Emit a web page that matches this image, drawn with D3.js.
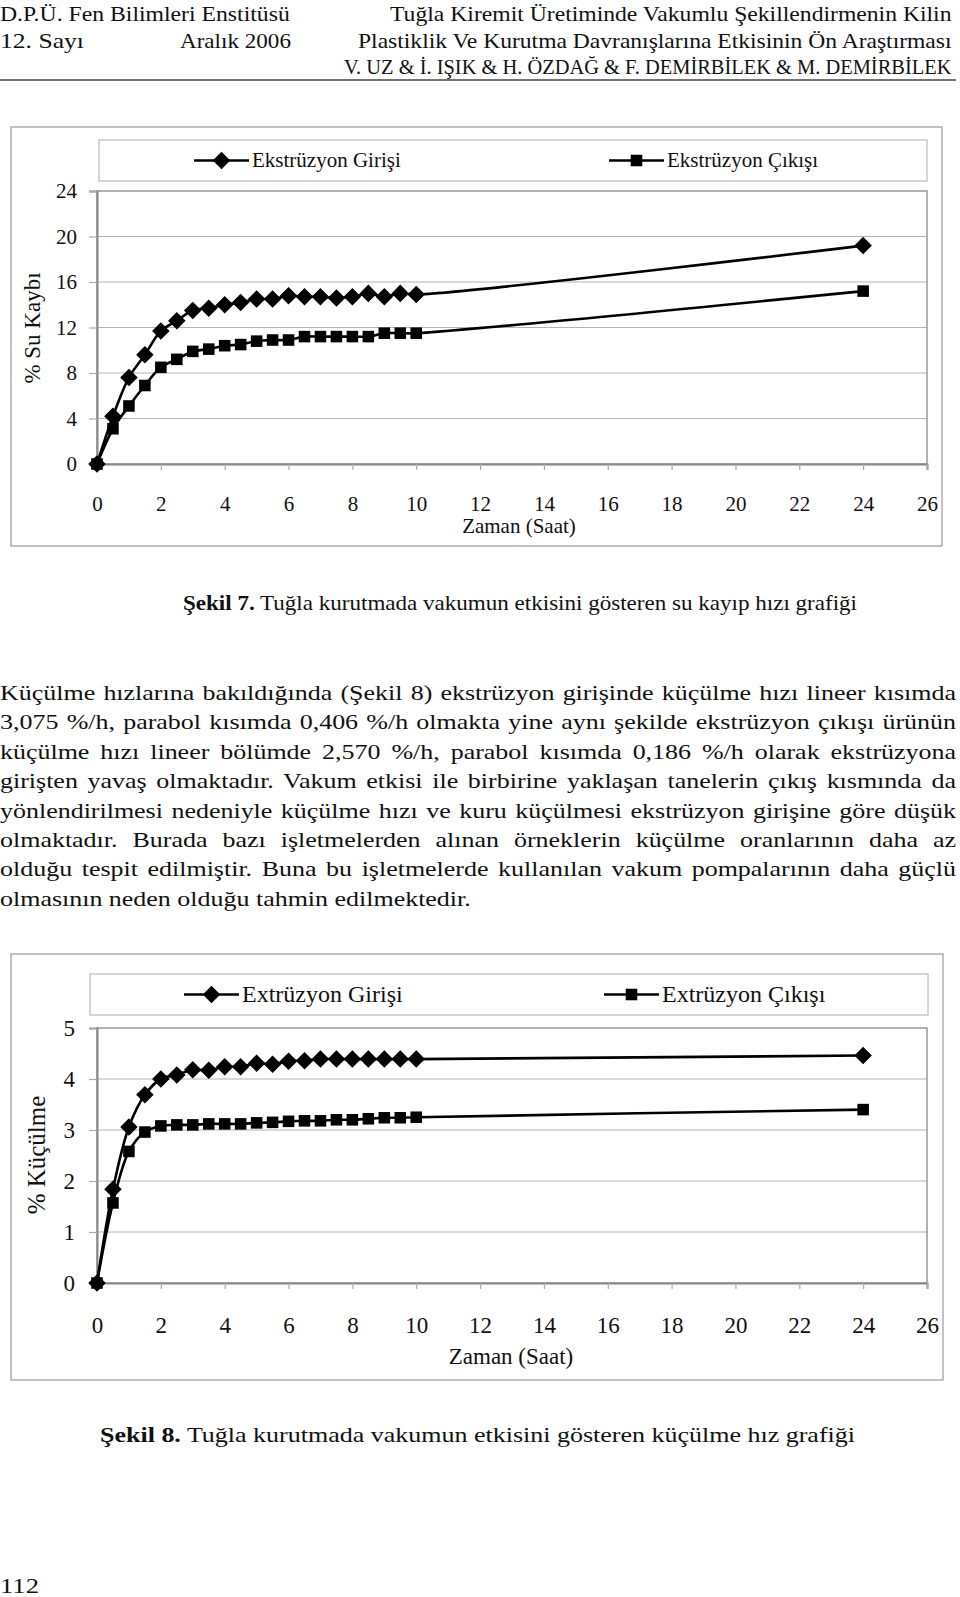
<!DOCTYPE html>
<html>
<head>
<meta charset="utf-8">
<script src="https://cdn.jsdelivr.net/npm/d3@7"></script>
<style>
  body { margin: 0; background: #fff; }
  text { font-family: "Liberation Serif", "Times New Roman", serif; fill: #111; }
</style>
</head>
<body>
<script>
var W = 960, H = 1597;

// zaman (saat)
var zaman = [0, 0.5, 1, 1.5, 2, 2.5, 3, 3.5, 4, 4.5, 5, 5.5, 6, 6.5, 7, 7.5, 8, 8.5, 9, 9.5, 10, 24];

// Sekil 7 - % su kaybi
var suGiris = [0, 4.2, 7.6, 9.6, 11.7, 12.6, 13.5, 13.7, 14.0, 14.2, 14.5, 14.5, 14.8, 14.7, 14.7, 14.6, 14.7, 15.0, 14.7, 15.0, 14.9, 19.2];
var suCikis = [0, 3.1, 5.1, 6.9, 8.5, 9.2, 9.9, 10.1, 10.4, 10.5, 10.8, 10.9, 10.9, 11.2, 11.2, 11.2, 11.2, 11.2, 11.5, 11.5, 11.5, 15.2];

// Sekil 8 - % kuculme
var kucGiris = [0, 1.84, 3.06, 3.69, 4.0, 4.08, 4.18, 4.17, 4.24, 4.24, 4.31, 4.29, 4.35, 4.36, 4.39, 4.39, 4.39, 4.39, 4.39, 4.39, 4.39, 4.46];
var kucCikis = [0, 1.57, 2.58, 2.96, 3.08, 3.1, 3.1, 3.12, 3.12, 3.12, 3.14, 3.15, 3.17, 3.18, 3.18, 3.2, 3.2, 3.22, 3.24, 3.24, 3.25, 3.40];

var xTicks = [0, 2, 4, 6, 8, 10, 12, 14, 16, 18, 20, 22, 24, 26];
var yTicks1 = [0, 4, 8, 12, 16, 20, 24];
var yTicks2 = [0, 1, 2, 3, 4, 5];

var paragraf = [
  "Küçülme hızlarına bakıldığında (Şekil 8) ekstrüzyon girişinde küçülme hızı lineer kısımda",
  "3,075 %/h, parabol kısımda 0,406 %/h olmakta yine aynı şekilde ekstrüzyon çıkışı ürünün",
  "küçülme hızı lineer bölümde 2,570 %/h, parabol kısımda 0,186 %/h olarak ekstrüzyona",
  "girişten yavaş olmaktadır. Vakum etkisi ile birbirine yaklaşan tanelerin çıkış kısmında da",
  "yönlendirilmesi nedeniyle küçülme hızı ve kuru küçülmesi ekstrüzyon girişine göre düşük",
  "olmaktadır. Burada bazı işletmelerden alınan örneklerin küçülme oranlarının daha az",
  "olduğu tespit edilmiştir. Buna bu işletmelerde kullanılan vakum pompalarının daha güçlü",
  "olmasının neden olduğu tahmin edilmektedir."
];

var svg = d3.select("body").append("svg")
    .attr("width", W)
    .attr("height", H);

svg.append("rect").attr("width", W).attr("height", H).attr("fill", "#fff");

// metni yatayda olcekleyerek verilen genislige sigdir
function fitText(x, y, str, len, size) {
  var t = svg.append("text")
      .attr("font-size", size)
      .text(str);
  var sx = len / t.node().getComputedTextLength();
  t.attr("transform", "translate(" + x + "," + y + ") scale(" + sx + ",1)");
  return t;
}

// ---- baslik
fitText(0, 21, "D.P.Ü. Fen Bilimleri Enstitüsü", 290, 22);
fitText(390, 21, "Tuğla Kiremit Üretiminde Vakumlu Şekillendirmenin Kilin", 562, 22);
fitText(0, 48, "12. Sayı", 84, 22);
fitText(180, 48, "Aralık 2006", 111, 22);
fitText(358, 48, "Plastiklik Ve Kurutma Davranışlarına Etkisinin Ön Araştırması", 594, 22);
fitText(344, 74, "V. UZ & İ. IŞIK & H. ÖZDAĞ & F. DEMİRBİLEK & M. DEMİRBİLEK", 608, 22);
svg.append("line").attr("x1", 0).attr("x2", 956).attr("y1", 80).attr("y2", 80)
    .attr("stroke", "#444").attr("stroke-width", 1.5);

// ---- grafik
function grafik(o) {
  var g = svg.append("g");
  // dis cerceve
  g.append("rect").attr("x", o.box[0]).attr("y", o.box[1])
      .attr("width", o.box[2] - o.box[0]).attr("height", o.box[3] - o.box[1])
      .attr("fill", "#fff").attr("stroke", "#9a9a9a").attr("stroke-width", 1.2);

  var x = d3.scaleLinear().domain([0, 26]).range([o.plot[0], o.plot[2]]);
  var y = d3.scaleLinear().domain([0, o.ymax]).range([o.plot[3], o.plot[1]]);

  // izgara
  g.selectAll(".grid").data(o.yTicks.slice(1, -1)).enter().append("line")
      .attr("x1", o.plot[0]).attr("x2", o.plot[2])
      .attr("y1", function(d) { return y(d); }).attr("y2", function(d) { return y(d); })
      .attr("stroke", "#b4b4b4").attr("stroke-width", 1.2);

  // plot cercevesi
  g.append("rect").attr("x", o.plot[0]).attr("y", o.plot[1])
      .attr("width", o.plot[2] - o.plot[0]).attr("height", o.plot[3] - o.plot[1])
      .attr("fill", "none").attr("stroke", "#999").attr("stroke-width", 1.5);

  // eksenler
  var ax = g.append("g").attr("transform", "translate(0," + o.plot[3] + ")")
      .call(d3.axisBottom(x).tickValues(xTicks).tickSize(6).tickPadding(o.xPad).tickFormat(d3.format("d")));
  var ay = g.append("g").attr("transform", "translate(" + o.plot[0] + ",0)")
      .call(d3.axisLeft(y).tickValues(o.yTicks).tickSize(8).tickPadding(o.yPad).tickFormat(d3.format("d")));
  [ax, ay].forEach(function(a) {
    a.select(".domain").attr("stroke", "#888").attr("stroke-width", 2);
    a.selectAll(".tick line").attr("stroke", "#aaa").attr("stroke-width", 1.2);
    a.selectAll(".tick text").attr("font-size", o.tickSize)
        .attr("font-family", "Liberation Serif").attr("fill", "#111");
  });

  // eksen basliklari
  g.append("text").attr("x", o.xTitle[0]).attr("y", o.xTitle[1])
      .attr("text-anchor", "middle").attr("font-size", o.titleSize).text("Zaman (Saat)");
  g.append("text").attr("transform", "translate(" + o.yTitle[0] + "," + o.yTitle[1] + ") rotate(-90)")
      .attr("text-anchor", "middle").attr("font-size", o.yTitleSize).text(o.yLabel);

  var line = d3.line()
      .x(function(d, i) { return x(zaman[i]); })
      .y(function(d) { return y(d); })
      .curve(d3.curveCatmullRom.alpha(0.5));

  var diamond = d3.symbol().type(d3.symbolDiamond2).size(o.mSize * 1.15);
  var square = d3.symbol().type(d3.symbolSquare2).size(o.mSize);

  [[o.giris, diamond], [o.cikis, square]].forEach(function(s) {
    g.append("path").attr("d", line(s[0]))
        .attr("fill", "none").attr("stroke", "#000").attr("stroke-width", 2.6);
    g.selectAll(null).data(s[0]).enter().append("path")
        .attr("d", s[1])
        .attr("transform", function(d, i) { return "translate(" + x(zaman[i]) + "," + y(d) + ")"; })
        .attr("fill", "#000");
  });

  // lejant
  g.append("rect").attr("x", o.leg[0]).attr("y", o.leg[1])
      .attr("width", o.leg[2] - o.leg[0]).attr("height", o.leg[3] - o.leg[1])
      .attr("fill", "#fff").attr("stroke", "#c8c8c8").attr("stroke-width", 1.5);
  var ly = (o.leg[1] + o.leg[3]) / 2;
  o.legItems.forEach(function(it, k) {
    var lx = it[0];
    g.append("line").attr("x1", lx).attr("x2", lx + 55).attr("y1", ly).attr("y2", ly)
        .attr("stroke", "#000").attr("stroke-width", 2.6);
    g.append("path").attr("d", k === 0 ? diamond() : square())
        .attr("transform", "translate(" + (lx + 27.5) + "," + ly + ")").attr("fill", "#000");
    g.append("text").attr("x", lx + 58).attr("y", ly + o.legSize * 0.33)
        .attr("font-size", o.legSize).text(it[1]);
  });
}

grafik({
  box: [11, 127, 942, 546],
  plot: [97, 191, 927, 464],
  leg: [99, 140, 927, 181],
  ymax: 24, yTicks: yTicks1,
  giris: suGiris, cikis: suCikis,
  yLabel: "% Su Kaybı",
  xTitle: [519, 533], yTitle: [40, 328],
  tickSize: 21, titleSize: 21, yTitleSize: 23, legSize: 21, mSize: 170,
  xPad: 26, yPad: 12,
  legItems: [[194, "Ekstrüzyon Girişi"], [609, "Ekstrüzyon Çıkışı"]]
});

grafik({
  box: [11, 954, 943, 1380],
  plot: [97, 1028, 927, 1283],
  leg: [90, 974, 928, 1015],
  ymax: 5, yTicks: yTicks2,
  giris: kucGiris, cikis: kucCikis,
  yLabel: "% Küçülme",
  xTitle: [511, 1364], yTitle: [45, 1155],
  tickSize: 23, titleSize: 23, yTitleSize: 25, legSize: 24, mSize: 170,
  xPad: 28, yPad: 14,
  legItems: [[184, "Extrüzyon Girişi"], [604, "Extrüzyon Çıkışı"]]
});

// ---- sekil yazilari
var c1 = svg.append("text").attr("x", 183).attr("y", 610).attr("font-size", 22)
    .attr("textLength", 674).attr("lengthAdjust", "spacingAndGlyphs");
c1.append("tspan").attr("font-weight", "bold").text("Şekil 7.");
c1.append("tspan").text(" Tuğla kurutmada vakumun etkisini gösteren su kayıp hızı grafiği");

var c2 = svg.append("text").attr("x", 100).attr("y", 1442).attr("font-size", 22)
    .attr("textLength", 755).attr("lengthAdjust", "spacingAndGlyphs");
c2.append("tspan").attr("font-weight", "bold").text("Şekil 8.");
c2.append("tspan").text(" Tuğla kurutmada vakumun etkisini gösteren küçülme hız grafiği");

// ---- paragraf (iki yana yasli, yatayda biraz genis)
var pSize = 21.5;
var pg = svg.append("g");
var son = pg.append("text").attr("font-size", pSize).text(paragraf[paragraf.length - 1]);
var sx = 471 / son.node().getComputedTextLength();
son.remove();

paragraf.forEach(function(s, i) {
  var t = pg.append("text")
      .attr("transform", "translate(0," + (700 + i * 29.4) + ") scale(" + sx + ",1)")
      .attr("font-size", pSize).text(s);
  if (i < paragraf.length - 1) {
    var w = t.node().getComputedTextLength();
    var n = s.split(" ").length - 1;
    t.attr("word-spacing", (956 / sx - w) / n);
  }
});

fitText(0, 1593, "112", 39, 21);
</script>
</body>
</html>
